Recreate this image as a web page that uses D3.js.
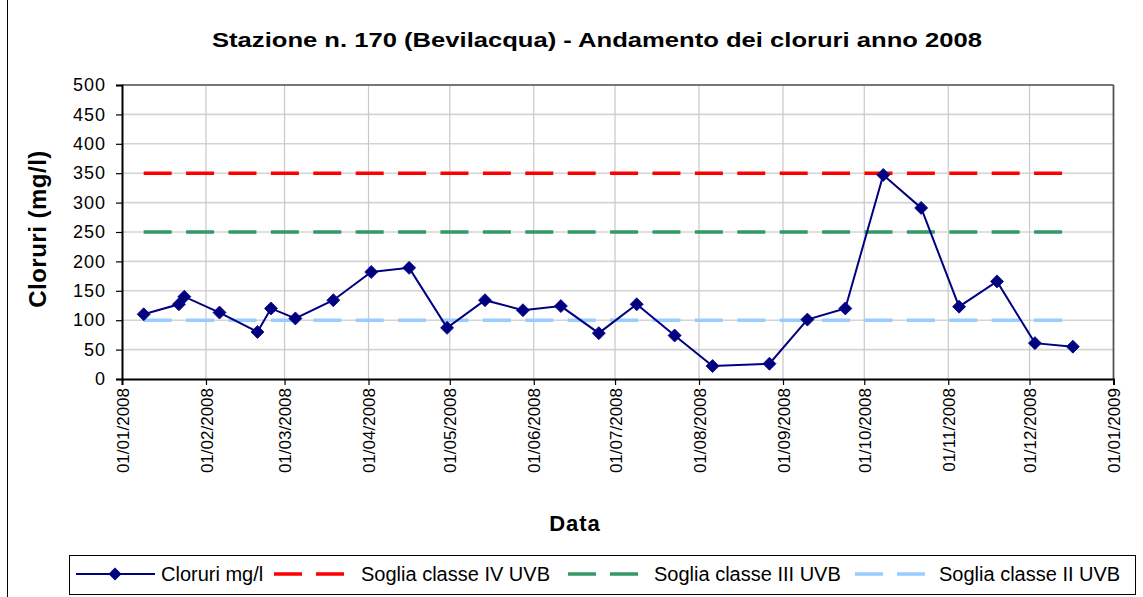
<!DOCTYPE html>
<html><head><meta charset="utf-8">
<script src="https://cdn.jsdelivr.net/npm/d3@7"></script>
<style>
html,body{margin:0;padding:0;background:#fff;}
svg{display:block;font-family:"Liberation Sans",Arial,sans-serif;}
</style></head>
<body>
<svg id="chart" width="1143" height="597"></svg>
<script>
// ---- data ----
const dates = ["2008-01-09","2008-01-22","2008-01-24","2008-02-06","2008-02-20","2008-02-25","2008-03-05","2008-03-19","2008-04-02","2008-04-16","2008-04-30","2008-05-14","2008-05-28","2008-06-11","2008-06-25","2008-07-09","2008-07-23","2008-08-06","2008-08-27","2008-09-10","2008-09-24","2008-10-08","2008-10-22","2008-11-05","2008-11-19","2008-12-03","2008-12-17"];
const cloruri = [110,127,140,113,80,120,103,134,182,189,87,134,117,124,78,127,74,22,26,101,120,347,291,123,166,61,55];
const thresholdNames = ["Soglia classe IV UVB","Soglia classe III UVB","Soglia classe II UVB"];
const thresholdValues = [350,250,100];
const thresholdColors = ["#FF0000","#339966","#99CCFF"];
const yTicks = [0,50,100,150,200,250,300,350,400,450,500];
const xTickDates = ["2008-01-01","2008-02-01","2008-03-01","2008-04-01","2008-05-01","2008-06-01","2008-07-01","2008-08-01","2008-09-01","2008-10-01","2008-11-01","2008-12-01","2009-01-01"];
const title = "Stazione n. 170 (Bevilacqua) - Andamento dei cloruri anno 2008";
const yLabel = "Cloruri (mg/l)";
const xLabel = "Data";
const seriesName = "Cloruri mg/l";

const parse = d3.utcParse("%Y-%m-%d");
const fmt = d3.utcFormat("%d/%m/%Y");
const pts = dates.map((d,i)=>({date:parse(d), v:cloruri[i]}));
const xTicks = xTickDates.map(parse);

const svg = d3.select("#chart");
const L=122, R=1113.5, T=85, B=379;
const x = d3.scaleUtc().domain([parse("2008-01-01"), parse("2009-01-01")]).range([L,R]);
const y = d3.scaleLinear().domain([0,500]).range([B,T]);

// chart area border (left edge visible)
svg.append("line").attr("x1",7.5).attr("x2",7.5).attr("y1",0).attr("y2",597).attr("stroke","#000").attr("stroke-width",1);

// title
svg.append("text").attr("x",597).attr("y",47).attr("text-anchor","middle")
  .attr("font-size",21).attr("font-weight","bold").attr("textLength",770).attr("lengthAdjust","spacingAndGlyphs").text(title);

// gridlines
svg.append("g").selectAll("line").data(yTicks.slice(1)).join("line")
  .attr("x1",L).attr("x2",R).attr("y1",d=>y(d)).attr("y2",d=>y(d))
  .attr("stroke","#d4d4d4").attr("stroke-width",1.6);
svg.append("g").selectAll("line").data(xTicks.slice(1,-1)).join("line")
  .attr("x1",d=>x(d)).attr("x2",d=>x(d)).attr("y1",T).attr("y2",B)
  .attr("stroke","#c8c8c8").attr("stroke-width",1.2);

// plot frame top/right
svg.append("line").attr("x1",L).attr("x2",R).attr("y1",T).attr("y2",T).attr("stroke","#555").attr("stroke-width",1.5);
svg.append("line").attr("x1",R).attr("x2",R).attr("y1",T).attr("y2",B).attr("stroke","#555").attr("stroke-width",1.8);

// y axis
const yAxis = d3.axisLeft(y).tickValues(yTicks).tickSize(6).tickPadding(10);
const gy = svg.append("g").attr("transform",`translate(${L},0)`).call(yAxis);
gy.select(".domain").attr("stroke","#000").attr("stroke-width",2);
gy.selectAll(".tick line").attr("stroke","#000").attr("stroke-width",1.2);
gy.selectAll(".tick text").attr("font-size",18).attr("letter-spacing","1px").attr("fill","#000")
  .attr("font-family","'Liberation Sans',Arial,sans-serif");

// x axis
const xAxis = d3.axisBottom(x).tickValues(xTicks).tickSize(6).tickFormat(fmt);
const gx = svg.append("g").attr("transform",`translate(0,${B})`).call(xAxis);
gx.select(".domain").attr("stroke","#000").attr("stroke-width",2);
gx.selectAll(".tick line").attr("stroke","#000").attr("stroke-width",1.2);
gx.selectAll(".tick text").attr("font-size",17).attr("fill","#000")
  .attr("font-family","'Liberation Sans',Arial,sans-serif")
  .attr("transform","rotate(-90)").attr("text-anchor","end")
  .attr("x",-9).attr("y",0).attr("dy","0.36em");

// axis titles
svg.append("text").attr("transform","translate(46,229) rotate(-90)").attr("text-anchor","middle")
  .attr("font-size",24).attr("font-weight","bold").attr("letter-spacing","0.5px").text(yLabel);
svg.append("text").attr("x",575).attr("y",531).attr("text-anchor","middle")
  .attr("font-size",22).attr("font-weight","bold").attr("letter-spacing","1px").text(xLabel);

// threshold lines
const x0 = d3.min(pts,d=>d.date), x1 = d3.max(pts,d=>d.date);
thresholdValues.forEach((v,i)=>{
  svg.append("line").attr("x1",x(x0)).attr("x2",x(x1)).attr("y1",y(v)).attr("y2",y(v))
    .attr("stroke",thresholdColors[i]).attr("stroke-width",3.5).attr("stroke-dasharray","28,14.4");
});

// data line
const line = d3.line().x(d=>x(d.date)).y(d=>y(d.v));
svg.append("path").datum(pts).attr("d",line).attr("fill","none").attr("stroke","#000080").attr("stroke-width",2);
const diamond = "M0,-6.5L6.5,0L0,6.5L-6.5,0Z";
svg.append("g").selectAll("path").data(pts).join("path")
  .attr("d",diamond).attr("transform",d=>`translate(${x(d.date)},${y(d.v)})`)
  .attr("fill","#000080").attr("stroke","#000080").attr("stroke-width",0.8);

// legend
const lg = svg.append("g");
lg.append("rect").attr("x",69.5).attr("y",555.5).attr("width",1066).attr("height",39)
  .attr("fill","#fff").attr("stroke","#000").attr("stroke-width",1);
const ly = 574;
lg.append("line").attr("x1",76).attr("x2",155).attr("y1",ly).attr("y2",ly).attr("stroke","#000080").attr("stroke-width",2);
lg.append("path").attr("d",diamond).attr("transform",`translate(115,${ly})`).attr("fill","#000080");
lg.append("text").attr("x",161).attr("y",ly+7).attr("font-size",20).text(seriesName);
const symX = [274,568,855], txtX = [361,654,939];
thresholdNames.forEach((n,i)=>{
  lg.append("line").attr("x1",symX[i]).attr("x2",symX[i]+70).attr("y1",ly).attr("y2",ly)
    .attr("stroke",thresholdColors[i]).attr("stroke-width",3.5).attr("stroke-dasharray","28,14");
  lg.append("text").attr("x",txtX[i]).attr("y",ly+7).attr("font-size",20).text(n);
});
</script>
</body></html>
